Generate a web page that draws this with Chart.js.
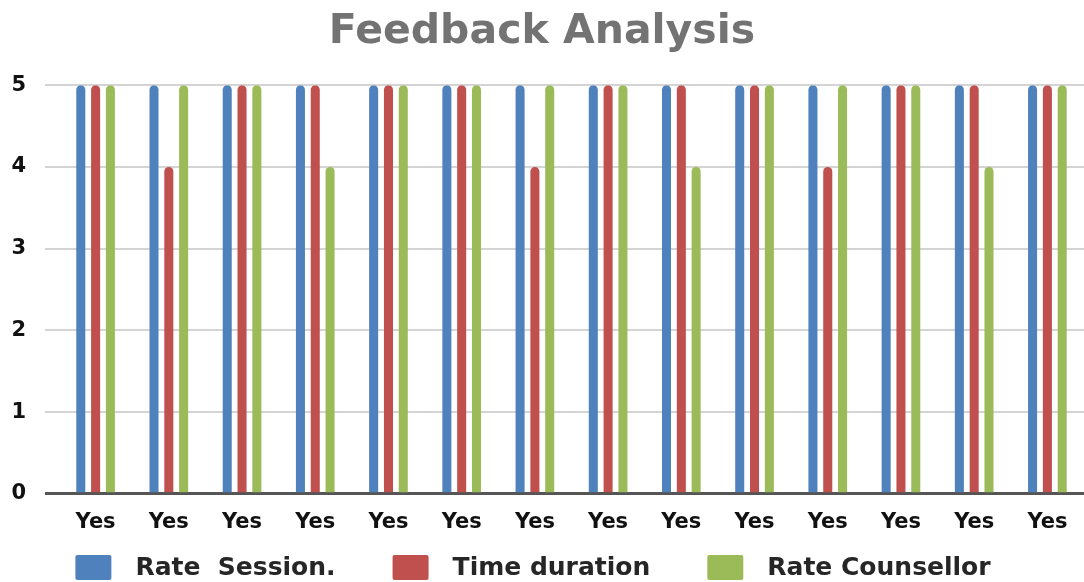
<!DOCTYPE html>
<html>
<head>
<meta charset="utf-8">
<script src="https://cdn.jsdelivr.net/npm/chart.js@4"></script>
<style>
  html, body { margin: 0; padding: 0; background: #fff; }
</style>
</head>
<body>
<canvas id="myChart" width="1084" height="582"></canvas>
<script>
const categories = ["Yes", "Yes", "Yes", "Yes", "Yes", "Yes", "Yes", "Yes", "Yes", "Yes", "Yes", "Yes", "Yes", "Yes"];
const rateSession = [5, 5, 5, 5, 5, 5, 5, 5, 5, 5, 5, 5, 5, 5];
const timeDuration = [5, 4, 5, 5, 5, 5, 4, 5, 5, 5, 4, 5, 5, 5];
const rateCounsellor = [5, 5, 5, 4, 5, 5, 5, 5, 4, 5, 5, 5, 4, 5];
const yTicks = [0, 1, 2, 3, 4, 5];

const font = "'DejaVu Sans', Verdana, sans-serif";

function makeSet(label, data, color) {
  return {
    label: label,
    data: data,
    backgroundColor: color,
    borderWidth: 0,
    borderRadius: { topLeft: 5, topRight: 5 },
    borderSkipped: false,
    categoryPercentage: 0.607,
    barPercentage: 0.61,
  };
}

// legend drawn under the axis labels, wider spacing than the built-in one
const bottomLegend = {
  id: "bottomLegend",
  afterDraw(chart) {
    const c = chart.ctx;
    const sets = chart.data.datasets;
    const boxW = 36, boxH = 25, gap = 24, itemGap = 57;
    c.save();
    c.font = "bold 25px " + font;
    c.textBaseline = "middle";
    const widths = sets.map((ds) => boxW + gap + c.measureText(ds.label).width);
    const total = widths.reduce((a, b) => a + b, 0) + itemGap * (sets.length - 1);
    let x = 533 - total / 2;
    const y = 555;
    sets.forEach((ds, i) => {
      c.fillStyle = ds.backgroundColor;
      c.beginPath();
      c.roundRect(x, y, boxW, boxH, 2);
      c.fill();
      c.fillStyle = "#262626";
      c.fillText(ds.label, x + boxW + gap, y + boxH / 2 + 1);
      x += widths[i] + itemGap;
    });
    c.restore();
  },
};

const ctx = document.getElementById("myChart").getContext("2d");
new Chart(ctx, {
  type: "bar",
  data: {
    labels: categories,
    datasets: [
      makeSet("Rate  Session.", rateSession, "#4F81BD"),
      makeSet("Time duration", timeDuration, "#C0504D"),
      makeSet("Rate Counsellor", rateCounsellor, "#9BBB59"),
    ],
  },
  plugins: [bottomLegend],
  options: {
    responsive: false,
    animation: false,
    layout: { padding: { left: 0, right: 0, top: 0, bottom: 39 } },
    scales: {
      x: {
        grid: { display: false },
        border: { display: false },
        ticks: {
          color: "#111",
          font: { family: font, size: 21, weight: "bold" },
          maxRotation: 0,
          autoSkip: false,
          padding: 8,
        },
      },
      y: {
        min: 0,
        max: 5,
        afterBuildTicks: function (axis) {
          axis.ticks = yTicks.map((v) => ({ value: v }));
        },
        afterFit: function (axis) {
          axis.width = 59;
        },
        border: { display: false },
        grid: {
          color: (c) => (c.tick && c.tick.value === 0 ? "#555" : "#d4d4d4"),
          lineWidth: (c) => (c.tick && c.tick.value === 0 ? 3 : 2),
          drawTicks: true,
          tickLength: 14,
        },
        ticks: {
          color: "#111",
          font: { family: font, size: 21, weight: "bold" },
          padding: 19,
        },
      },
    },
    plugins: {
      title: {
        display: true,
        text: "Feedback Analysis",
        color: "#737373",
        font: { family: font, size: 41, weight: "bold" },
        padding: { top: 8, bottom: 28 },
      },
      legend: { display: false },
      tooltip: { enabled: false },
    },
  },
});
</script>
</body>
</html>
